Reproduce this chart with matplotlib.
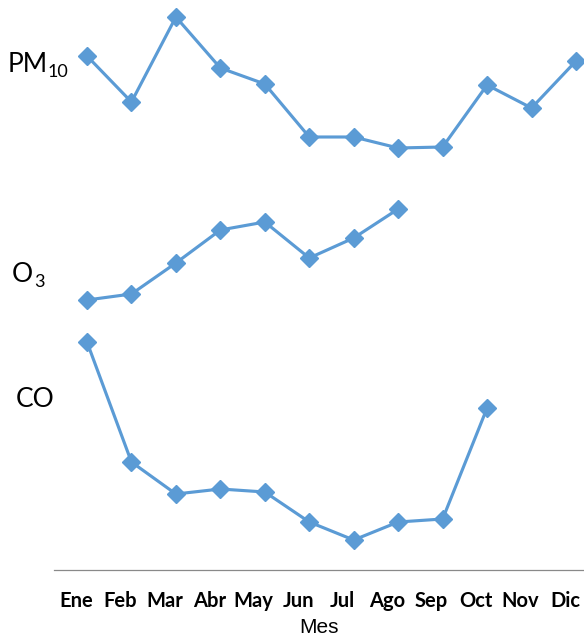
import numpy as np
import matplotlib
matplotlib.use("Agg")
import matplotlib.pyplot as plt
from matplotlib.transforms import ScaledTranslation

# Data (relative heights above the axis)
meses = ["Ene", "Feb", "Mar", "Abr", "May", "Jun", "Jul", "Ago", "Sep", "Oct", "Nov", "Dic"]
pm10 = [514, 468, 553, 502, 486, 433, 433, 422, 423, 485, 462, 509]
o3 = [270, 276, 307, 340, 348, 312, 332, 361, np.nan, np.nan, np.nan, np.nan]
co = [228, 108, 76, 81, 78, 48, 30, 48, 51, 162, np.nan, np.nan]
series_names = ["PM", "O", "CO"]
series_subs = ["10", "3", ""]

W, H = 584, 641
fig = plt.figure(figsize=(W / 100, H / 100), dpi=100)
ax = fig.add_axes([54 / W, 71 / H, 530 / W, 570 / H])

color = "#5B9BD5"
x = np.arange(len(meses))
for s in (pm10, o3, co):
    ax.plot(x, s, color=color, lw=2.25, marker='D', ms=8.7,
            markerfacecolor=color, markeredgecolor=color, clip_on=False)

ax.set_xlim(-0.742, 11.18)
ax.set_ylim(0, 570)
ax.set_yticks([])
for sp in ("top", "right", "left"):
    ax.spines[sp].set_visible(False)
ax.spines["bottom"].set_color("#898989")
ax.spines["bottom"].set_linewidth(0.9)

ax.set_xticks(x)
ax.set_xticklabels(meses, fontfamily="Lato", fontweight="bold", fontsize=14.5)
ax.tick_params(axis='x', length=0, pad=15)
off = ScaledTranslation(-11 / 100, 0, fig.dpi_scale_trans)
for lab in ax.get_xticklabels():
    lab.set_transform(lab.get_transform() + off)

ax.set_xlabel("Mes", fontfamily="Liberation Sans", fontsize=15, labelpad=5)

# Series labels on the left (main text + subscript)
main_pos = [(8, 72), (12, 282), (16, 407)]
sub_pos = [(48, 77), (34, 287), (0, 0)]
for name, sub, (px, py), (sx, sy) in zip(series_names, series_subs, main_pos, sub_pos):
    fig.text(px / W, 1 - py / H, name, fontfamily="Lato", fontsize=19,
             ha='left', va='baseline')
    if sub:
        fig.text(sx / W, 1 - sy / H, sub, fontfamily="Lato", fontsize=13,
                 ha='left', va='baseline')

fig.savefig("out.png", dpi=100)
